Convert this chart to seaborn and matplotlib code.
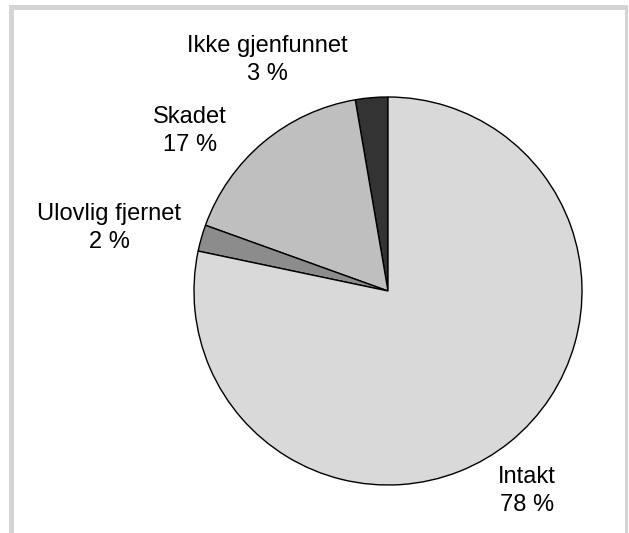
import matplotlib
matplotlib.use("Agg")
import matplotlib.pyplot as plt
import seaborn as sns
from matplotlib.patches import Rectangle

sns.set_theme(style="white")
plt.rcParams['font.family'] = ['Liberation Sans', 'DejaVu Sans']

categories = ["Ikke gjenfunnet", "Skadet", "Ulovlig fjernet", "Intakt"]
values = [2.7, 16.8, 2.2, 78.3]
pct_labels = ["3 %", "17 %", "2 %", "78 %"]
colors = ["#333333", "#bfbfbf", "#8c8c8c", "#d9d9d9"]

W, H = 629, 533
fig = plt.figure(figsize=(W / 100, H / 100), dpi=100)
fig.patch.set_facecolor("white")

cx, cy, r = 388, 291, 194
ax = fig.add_axes([(cx - r) / W, (H - cy - r) / H, 2 * r / W, 2 * r / H])
ax.pie(values, colors=colors, startangle=90, counterclock=True,
       wedgeprops=dict(edgecolor="black", linewidth=1.0), radius=1)
ax.set_xlim(-1, 1)
ax.set_ylim(-1, 1)
ax.set_aspect("equal")
ax.axis("off")

# label positions (pixel centres)
label_pos = [(267, 60), (190, 131), (109, 228), (527, 491)]
for cat, pl, (px, py) in zip(categories, pct_labels, label_pos):
    fig.text(px / W, 1 - py / H, f"{cat}\n{pl}", ha="center", va="center",
             fontsize=17, color="black", linespacing=1.4)

# outer frame
frame_col = "#d4d4d4"
fig.add_artist(Rectangle((9 / W, 0), 5 / W, 1 - 5 / H, transform=fig.transFigure,
                         facecolor=frame_col, edgecolor="none"))
fig.add_artist(Rectangle((9 / W, 1 - 10 / H), (627 - 9) / W, 5 / H, transform=fig.transFigure,
                         facecolor=frame_col, edgecolor="none"))
fig.add_artist(Rectangle((625 / W, 0), 3 / W, 1 - 5 / H, transform=fig.transFigure,
                         facecolor=frame_col, edgecolor="none"))

fig.savefig("out.png", dpi=100)
